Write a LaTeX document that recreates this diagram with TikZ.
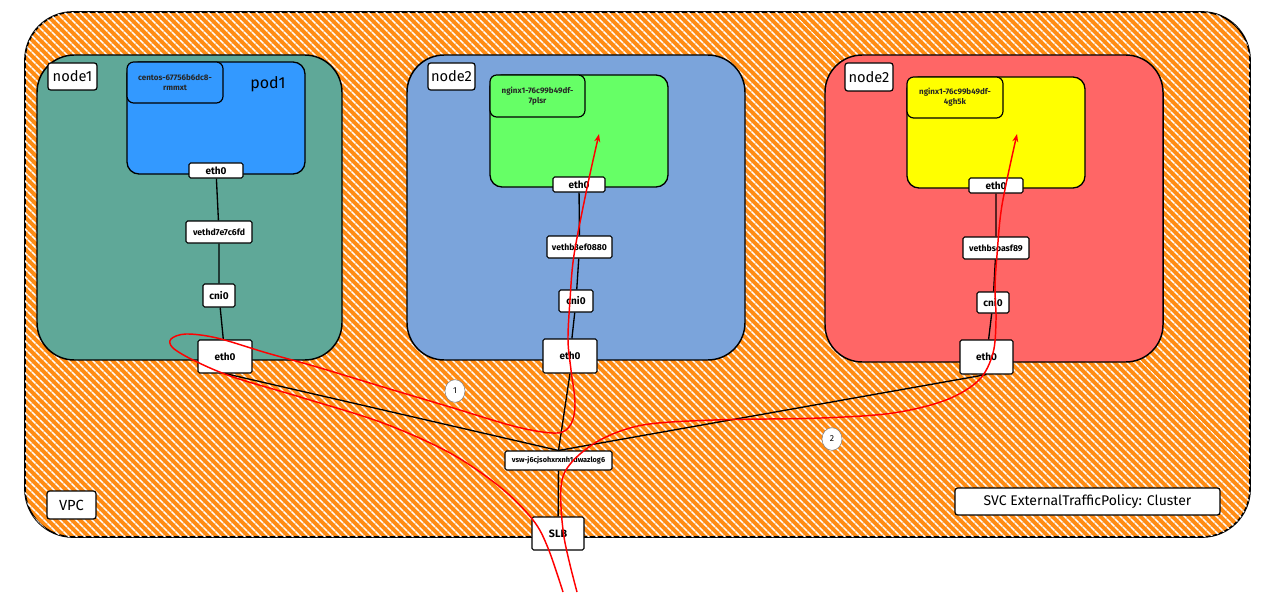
\documentclass[tikz,border=0pt]{standalone}
\usepackage{fontspec}
\setmainfont{Fira Sans}
\usetikzlibrary{patterns.meta,arrows.meta,shapes.geometric}
\definecolor{vpcorange}{RGB}{255,140,20}
\definecolor{tealc}{RGB}{95,168,152}
\definecolor{bluec}{RGB}{123,164,219}
\definecolor{redc}{RGB}{255,102,102}
\definecolor{podbluec}{RGB}{51,153,255}
\definecolor{greenc}{RGB}{102,255,102}
\definecolor{yellowc}{RGB}{255,255,0}
\tikzset{
  vpcbox/.style={draw=black, line width=1.3pt, rounded corners=36pt, fill=vpcorange,
    postaction={pattern={Lines[angle=-45,distance=4pt,line width=1.25pt]}, pattern color=white}},
  nbox/.style={draw=black, line width=1.1pt, rounded corners=28pt, inner sep=0pt},
  podbox/.style={draw=black, line width=1pt, rounded corners=9pt, inner sep=0pt},
  podlab/.style={draw=black, line width=0.9pt, rounded corners=5pt, inner sep=0pt, align=center,
    font=\fontsize{6}{7.5}\selectfont\bfseries, text=black!85},
  ifbox/.style={draw=black, fill=white, line width=0.8pt, rounded corners=1.2pt, inner sep=0pt,
    font=\fontsize{7.5}{8}\selectfont\bfseries},
  vethbox/.style={ifbox, font=\fontsize{6.5}{7}\selectfont\bfseries},
  tagbox/.style={draw=black, fill=white, line width=0.9pt, rounded corners=2pt, inner sep=0pt,
    font=\fontsize{11}{12}\selectfont},
  wire/.style={draw=black, line width=1pt},
  route/.style={draw=red, line width=1.1pt, -{Stealth[length=6pt,width=4.5pt]}},
  numc/.style={ellipse, draw=gray, fill=white, inner sep=0pt, minimum width=15pt, minimum height=17pt,
    font=\fontsize{6.5}{7}\selectfont}
}
% #1 style, #2 name, #3 x1, #4 y1, #5 x2, #6 y2 (pixels), #7 text
\newcommand\mybox[7]{%
  \pgfmathsetmacro\myboxw{(#5-#3)*0.75}%
  \pgfmathsetmacro\myboxh{(#6-#4)*0.75}%
  \node[#1, minimum width=\myboxw pt, minimum height=\myboxh pt] (#2) at ({(#3+#5)/2},{(#4+#6)/2}) {#7};}
\begin{document}
\begin{tikzpicture}[x=0.75pt,y=-0.75pt]
\useasboundingbox (0,0) rectangle (1266,606);
% VPC
\path[vpcbox] (25,12) rectangle (1250,537);
% hosts
\mybox{nbox, fill=tealc}{node1}{37}{55}{342}{360}{}
\mybox{nbox, fill=bluec}{node2}{407}{55}{745}{360}{}
\mybox{nbox, fill=redc}{node3}{825}{55}{1163}{362}{}
% host labels
\mybox{tagbox}{node1lab}{48}{63}{97}{90}{node1}
\mybox{tagbox}{node2lab}{428}{63}{475}{90}{node2}
\mybox{tagbox}{node3lab}{845}{63}{893}{91}{node2}
% pods
\mybox{podbox, fill=podbluec}{pod1}{127}{62}{305}{174}{}
\mybox{podbox, fill=greenc}{pod2}{490}{75}{668}{187}{}
\mybox{podbox, fill=yellowc}{pod3}{907}{77}{1085}{188}{}
\mybox{podlab, fill=podbluec}{pod1lab}{127}{62}{223}{103}{centos-67756b6dc8-\\rmmxt}
\mybox{podlab, fill=greenc}{pod2lab}{490}{75}{585}{117}{nginx1-76c99b49df-\\7plsr}
\mybox{podlab, fill=yellowc}{pod3lab}{907}{77}{1003}{118}{nginx1-76c99b49df-\\4gh5k}
\node[font=\fontsize{12}{13}\selectfont] (pod1name) at (268,84) {pod1};
% interfaces node1
\mybox{ifbox}{p1eth}{189}{163}{243}{178}{eth0}
\mybox{vethbox}{p1veth}{186}{221}{252}{243}{vethd7e7c6fd}
\mybox{ifbox}{p1cni}{203}{284}{235}{307}{cni0}
\mybox{ifbox}{n1eth}{198}{340}{252}{373}{eth0}
% interfaces node2
\mybox{ifbox}{p2eth}{553}{177}{605}{192}{eth0}
\mybox{vethbox}{p2veth}{547}{236}{612}{258}{vethb3ef0880}
\mybox{ifbox}{p2cni}{559}{290}{593}{312}{cni0}
\mybox{ifbox}{n2eth}{543}{339}{597}{373}{eth0}
% interfaces node3
\mybox{ifbox}{p3eth}{969}{178}{1023}{193}{eth0}
\mybox{vethbox}{p3veth}{963}{237}{1029}{259}{vethbsoasf89}
\mybox{ifbox}{p3cni}{977}{292}{1009}{313}{cni0}
\mybox{ifbox}{n3eth}{960}{340}{1013}{374}{eth0}
% vswitch, SLB
\mybox{ifbox, font=\fontsize{5.5}{6}\selectfont\bfseries}{vsw}{505}{451}{612}{470}{vsw-j6cjsohxrxnh1dwazlog6}
\mybox{ifbox, font=\fontsize{8}{9}\selectfont\bfseries}{slb}{532}{517}{584}{550}{SLB}
% tags
\mybox{tagbox}{vpclab}{47}{491}{96}{519}{VPC}
\mybox{tagbox, font=\fontsize{10.5}{12}\selectfont}{svclab}{955}{488}{1220}{515}{SVC ExternalTrafficPolicy: Cluster}
\node[numc] (num1) at (455,391) {1};
\node[numc] (num2) at (832,439) {2};
% wires
\draw[wire] (p1eth) -- (p1veth) -- (p1cni) -- (n1eth);
\draw[wire] (p2eth) -- (p2veth) -- (p2cni) -- (n2eth);
\draw[wire] (p3eth) -- (p3veth) -- (p3cni) -- (n3eth);
\draw[wire] (n1eth.south) -- (vsw.north);
\draw[wire] (n2eth.south) -- (vsw.north);
\draw[wire] (n3eth.south) -- (vsw.north);
\draw[wire] (vsw) -- (slb);
% routes
\coordinate (inA) at (563,592);
\coordinate (tipA) at (599,134);
\coordinate (inB) at (577,592);
\coordinate (tipB) at (1017,134);
\draw[route] plot[smooth, tension=0.55] coordinates {(inA) (548,548) (533,520) (500,487) (450,453) (383,423) (300,397) (233,377) (195,361) (173,348) (171,339) (186,334) (217,338) (267,353) (317,367) (383,387) (450,407) (517,427) (557,433) (571,424) (575,403) (571,370) (568,340) (570,300) (574,255) (587,188) (tipA)};
\draw[route] plot[smooth, tension=0.55] coordinates {(inB) (564,537) (561,487) (571,463) (600,440) (643,425) (714,420) (821,418) (893,413) (946,400) (979,380) (993,353) (996,320) (995,288) (997,255) (1002,205) (tipB)};
\end{tikzpicture}
\end{document}
